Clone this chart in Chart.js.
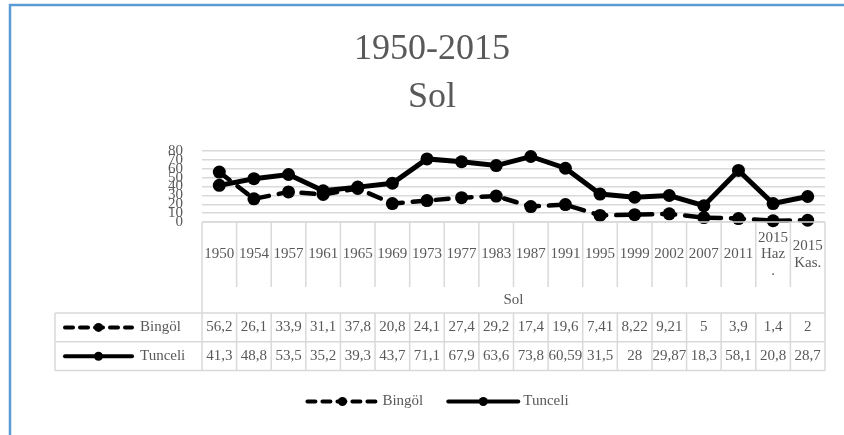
<!DOCTYPE html>
<html><head><meta charset="utf-8">
<script src="https://cdn.jsdelivr.net/npm/chart.js@4"></script>
<style>html,body{margin:0;padding:0;background:#fff}canvas{display:block}</style>
</head><body>
<canvas id="c" width="844" height="435"></canvas>
<script>
const categories = ['1950','1954','1957','1961','1965','1969','1973','1977','1983','1987','1991','1995','1999','2002','2007','2011',['2015','Haz','.'],['2015','Kas.']];
const bingol = [56.2,26.1,33.9,31.1,37.8,20.8,24.1,27.4,29.2,17.4,19.6,7.41,8.22,9.21,5,3.9,1.4,2];
const tunceli = [41.3,48.8,53.5,35.2,39.3,43.7,71.1,67.9,63.6,73.8,60.59,31.5,28,29.87,18.3,58.1,20.8,28.7];
const yTicks = [0,10,20,30,40,50,60,70,80];
const titleLines = ['1950-2015','Sol'];
const axisTitle = 'Sol';
const seriesNames = ['Bingöl','Tunceli'];

const FONT = '"Liberation Serif", "Times New Roman", serif';
const GRAY = '#595959';
const LINE = '#d9d9d9';

function fmt(v){ return String(v).replace('.', ','); }

function drawKey(ctx, x1, x2, y, ds){
  ctx.save();
  ctx.strokeStyle = ds.borderColor;
  ctx.lineWidth = 4;
  ctx.lineCap = ds.borderCapStyle || 'butt';
  ctx.setLineDash(ds.keyDash || []);
  ctx.beginPath(); ctx.moveTo(x1, y); ctx.lineTo(x2, y); ctx.stroke();
  ctx.setLineDash([]);
  ctx.fillStyle = ds.pointBackgroundColor;
  ctx.beginPath(); ctx.arc((x1 + x2) / 2, y, 4.5, 0, Math.PI * 2); ctx.fill();
  ctx.restore();
}

const tablePlugin = {
  id: 'excelTable',
  beforeDraw(chart){
    const ctx = chart.ctx;
    ctx.save();
    ctx.fillStyle = '#fff'; ctx.fillRect(0, 0, chart.width, chart.height);
    ctx.strokeStyle = '#5b9bd5'; ctx.lineWidth = 2.5;
    ctx.beginPath(); ctx.moveTo(10, chart.height); ctx.lineTo(10, 5); ctx.lineTo(chart.width, 5); ctx.stroke();
    ctx.fillStyle = GRAY; ctx.textAlign = 'center'; ctx.textBaseline = 'middle';
    ctx.font = '36px ' + FONT;
    ctx.fillText(titleLines[0], 432, 50);
    ctx.fillText(titleLines[1], 432, 98);
    ctx.restore();
  },
  afterDraw(chart){
    const ctx = chart.ctx, xs = chart.scales.x, area = chart.chartArea;
    const n = categories.length;
    const colW = (area.right - area.left) / n;
    const top = area.bottom;
    const headerBottom = top + 65;
    const solBottom = top + 91;
    const rowH = 28.8;
    const tableBottom = solBottom + 2 * rowH;
    const keyLeft = 55;
    ctx.save();
    ctx.strokeStyle = LINE; ctx.lineWidth = 1.5;
    ctx.beginPath();
    ctx.moveTo(area.left, top); ctx.lineTo(area.right, top);
    for (let i = 1; i < n; i++) {
      const x = area.left + i * colW;
      ctx.moveTo(x, top); ctx.lineTo(x, headerBottom);
    }
    ctx.moveTo(area.left, top); ctx.lineTo(area.left, tableBottom);
    ctx.moveTo(area.right, top); ctx.lineTo(area.right, tableBottom);
    for (let r = 0; r <= 2; r++) {
      const y = solBottom + r * rowH;
      ctx.moveTo(keyLeft, y); ctx.lineTo(area.right, y);
    }
    ctx.moveTo(keyLeft, solBottom); ctx.lineTo(keyLeft, tableBottom);
    for (let i = 1; i < n; i++) {
      const x = area.left + i * colW;
      ctx.moveTo(x, solBottom); ctx.lineTo(x, tableBottom);
    }
    ctx.stroke();

    ctx.fillStyle = GRAY; ctx.textAlign = 'center'; ctx.textBaseline = 'middle';
    ctx.font = '15px ' + FONT;
    const headerMid = (top + headerBottom) / 2;
    const lh = 16.5;
    for (let i = 0; i < n; i++) {
      const cx = xs.getPixelForValue(i);
      const lines = Array.isArray(categories[i]) ? categories[i] : [categories[i]];
      lines.forEach((t, j) => ctx.fillText(t, cx, headerMid + (j - (lines.length - 1) / 2) * lh));
    }
    ctx.fillText(axisTitle, (area.left + area.right) / 2, (headerBottom + solBottom) / 2);

    const series = [bingol, tunceli];
    chart.data.datasets.forEach((ds, r) => {
      const cy = solBottom + r * rowH + rowH / 2;
      for (let i = 0; i < n; i++) {
        ctx.fillText(fmt(series[r][i]), xs.getPixelForValue(i), cy);
      }
      drawKey(ctx, 65, 132, cy, ds);
      ctx.textAlign = 'left';
      ctx.fillText(ds.label, 140, cy);
      ctx.textAlign = 'center';
    });

    const ly = 401.5, keyW = 70, gap = 5, itemGap = 25;
    ctx.textAlign = 'left';
    const widths = chart.data.datasets.map(ds => keyW + gap + ctx.measureText(ds.label).width);
    const total = widths.reduce((a, b) => a + b, 0) + itemGap * (widths.length - 1);
    let x = 438 - total / 2;
    chart.data.datasets.forEach((ds, k) => {
      drawKey(ctx, x, x + keyW, ly, ds);
      ctx.fillText(ds.label, x + keyW + gap, ly);
      x += widths[k] + itemGap;
    });
    ctx.restore();
  }
};

new Chart(document.getElementById('c'), {
  type: 'line',
  data: {
    labels: categories,
    datasets: [
      { label: seriesNames[0], data: bingol, borderColor: '#000', backgroundColor: '#000', borderWidth: 4.5,
        borderDash: [13, 10], keyDash: [8, 7], borderCapStyle: 'round', pointRadius: 6.5, pointHoverRadius: 6.5,
        pointBackgroundColor: '#000', pointBorderColor: '#000', pointBorderWidth: 0, tension: 0, fill: false, clip: false },
      { label: seriesNames[1], data: tunceli, borderColor: '#000', backgroundColor: '#000', borderWidth: 5,
        borderCapStyle: 'round', pointRadius: 6.5, pointHoverRadius: 6.5,
        pointBackgroundColor: '#000', pointBorderColor: '#000', pointBorderWidth: 0, tension: 0, fill: false, clip: false }
    ]
  },
  options: {
    responsive: false, devicePixelRatio: 1, animation: false, events: [],
    layout: { padding: { left: 162, right: 19, top: 151, bottom: 213 } },
    plugins: { legend: { display: false }, title: { display: false }, tooltip: { enabled: false } },
    scales: {
      x: { type: 'category', display: false, offset: true },
      y: {
        min: 0, max: 80,
        afterBuildTicks(s){ s.ticks = yTicks.map(v => ({ value: v })); },
        afterFit(s){ s.width = 40; },
        ticks: { autoSkip: false, padding: 19, color: GRAY, font: { family: FONT, size: 15 } },
        grid: { color: LINE, lineWidth: 1.5, drawTicks: false },
        border: { display: false }
      }
    }
  },
  plugins: [tablePlugin]
});
</script>
</body></html>
